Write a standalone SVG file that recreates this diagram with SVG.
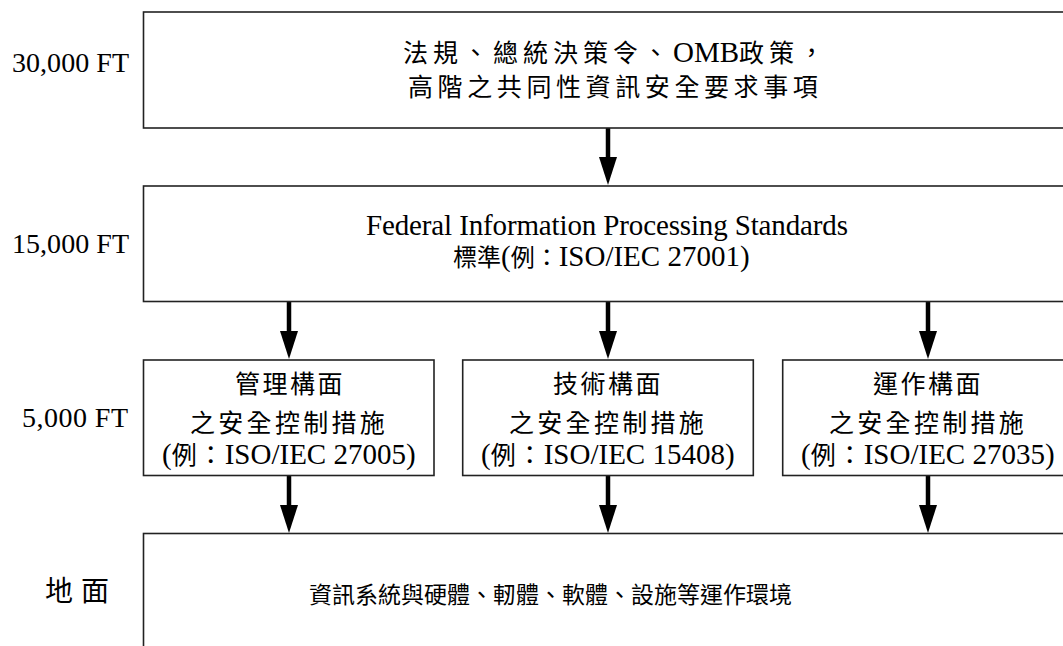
<svg xmlns="http://www.w3.org/2000/svg" width="1063" height="646" viewBox="0 0 1063 646">
  <style>
    .box { fill: #fff; stroke: #222; stroke-width: 1.6; }
    text { font-family: "Liberation Serif", "Noto Sans CJK TC", serif; fill: #000; }
    .lat { font-size: 29px; font-family: "Liberation Serif", serif; }
    .cjk { font-size: 25px; font-family: "Noto Sans CJK TC", "Noto Sans CJK SC", sans-serif; }
    .lvl { font-size: 28px; }
    .conn line { stroke: #000; stroke-width: 4.5; }
  </style>
  <defs>
    <marker id="head" markerUnits="userSpaceOnUse" markerWidth="28" markerHeight="18" viewBox="0 0 28 18" refX="1" refY="9" orient="auto">
      <path d="M0,0 L28,9 L0,18 Z" fill="#000"/>
    </marker>
  </defs>
  <rect width="1063" height="646" fill="#fff"/>

  <!-- altitude labels -->
  <g id="levels">
    <text class="lvl" x="12" y="72" textLength="117" lengthAdjust="spacing">30,000 FT</text>
    <text class="lvl" x="12" y="253" textLength="117" lengthAdjust="spacing">15,000 FT</text>
    <text class="lvl" x="22" y="427" textLength="106" lengthAdjust="spacing">5,000 FT</text>
    <text class="cjk" x="45" y="601" style="font-size:28px" letter-spacing="8">地面</text>
  </g>

  <!-- connectors -->
  <g class="conn" id="connectors">
    <line x1="608" y1="128" x2="608" y2="158" marker-end="url(#head)"/>
    <line x1="289" y1="301.5" x2="289" y2="332" marker-end="url(#head)"/>
    <line x1="608" y1="301.5" x2="608" y2="332" marker-end="url(#head)"/>
    <line x1="928" y1="301.5" x2="928" y2="332" marker-end="url(#head)"/>
    <line x1="289" y1="475.5" x2="289" y2="506" marker-end="url(#head)"/>
    <line x1="608" y1="475.5" x2="608" y2="506" marker-end="url(#head)"/>
    <line x1="928" y1="475.5" x2="928" y2="506" marker-end="url(#head)"/>
  </g>

  <!-- policy level -->
  <g id="policy">
    <rect class="box" x="143.5" y="12" width="940" height="116"/>
    <text x="403" y="62"><tspan class="cjk" letter-spacing="5">法規、總統決策令、</tspan><tspan class="lat" x="673">OMB</tspan><tspan class="cjk" letter-spacing="5">政策，</tspan></text>
    <text class="cjk" x="408" y="96" letter-spacing="4.6">高階之共同性資訊安全要求事項</text>
  </g>

  <!-- standards level -->
  <g id="standards">
    <rect class="box" x="143.5" y="186" width="940" height="115.5"/>
    <text class="lat" x="366" y="235" textLength="482" lengthAdjust="spacing">Federal Information Processing Standards</text>
    <text x="453" y="266"><tspan class="cjk" style="font-size:24px">標準</tspan><tspan class="lat">(</tspan><tspan class="cjk" style="font-size:24px">例：</tspan><tspan class="lat">ISO/IEC 27001)</tspan></text>
  </g>

  <!-- control families -->
  <g id="management">
    <rect class="box" x="143.5" y="360" width="290.5" height="115.5"/>
    <text class="cjk" x="235" y="393" letter-spacing="2.5">管理構面</text>
    <text class="cjk" x="190" y="432" letter-spacing="3.3">之安全控制措施</text>
    <text x="162" y="464"><tspan class="lat">(</tspan><tspan class="cjk" letter-spacing="1.5">例：</tspan><tspan class="lat">ISO/IEC 27005)</tspan></text>
  </g>
  <g id="technical">
    <rect class="box" x="462.7" y="360" width="290.6" height="115.5"/>
    <text class="cjk" x="553" y="393" letter-spacing="2.5">技術構面</text>
    <text class="cjk" x="509" y="432" letter-spacing="3.3">之安全控制措施</text>
    <text x="481" y="464"><tspan class="lat">(</tspan><tspan class="cjk" letter-spacing="1.5">例：</tspan><tspan class="lat">ISO/IEC 15408)</tspan></text>
  </g>
  <g id="operational">
    <rect class="box" x="782.7" y="360" width="300" height="115.5"/>
    <text class="cjk" x="873" y="393" letter-spacing="2.5">運作構面</text>
    <text class="cjk" x="829" y="432" letter-spacing="3.3">之安全控制措施</text>
    <text x="801" y="464"><tspan class="lat">(</tspan><tspan class="cjk" letter-spacing="1.5">例：</tspan><tspan class="lat">ISO/IEC 27035)</tspan></text>
  </g>

  <!-- ground level -->
  <g id="ground">
    <rect class="box" x="143.5" y="533.5" width="940" height="130"/>
    <text class="cjk" x="309" y="603" style="font-size:23px">資訊系統與硬體、軔體、軟體、設施等運作環境</text>
  </g>
</svg>
